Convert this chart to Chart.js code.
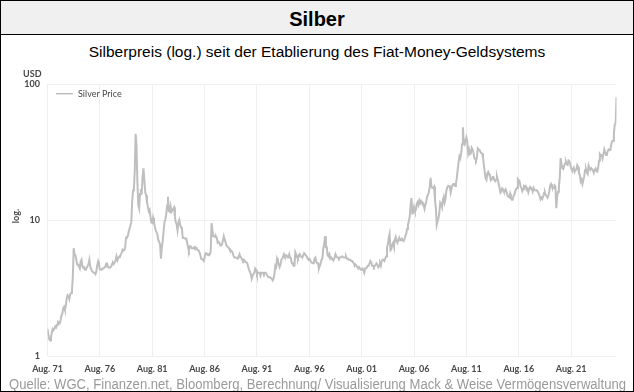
<!DOCTYPE html>
<html>
<head>
<meta charset="utf-8">
<script src="https://cdn.jsdelivr.net/npm/chart.js@4.4.1/dist/chart.umd.min.js"></script>
<style>
  html, body { margin: 0; padding: 0; background: #fff; }
  #frame { position: relative; width: 634px; height: 392px; box-sizing: border-box; border: 1px solid #000; overflow: hidden; }
  #head { position: absolute; left: 0; top: 0; width: 632px; height: 33px; background: #f0f0f0; border-bottom: 1px solid #000;
          font: bold 20px "Liberation Sans", Arial, sans-serif; color: #000; text-align: center; line-height: 36px; }
  #sub { position: absolute; left: 0; top: 42px; width: 632px; text-align: center; font: 15.5px "Liberation Sans", Arial, sans-serif; color: #000; line-height: 18px; }
  #src { position: absolute; left: 8px; top: 374px; font: 15.5px "Liberation Sans Narrow", "Arial Narrow", "Liberation Sans", sans-serif; color: #9a9a9a; line-height: 18px; white-space: nowrap; transform-origin: 0 0; }
  canvas { position: absolute; left: 0; top: 60px; }
</style>
</head>
<body>
<div id="frame">
  <div id="head">Silber</div>
  <div id="sub">Silberpreis (log.) seit der Etablierung des Fiat-Money-Geldsystems</div>
  <canvas id="c" width="632" height="320"></canvas>
  <span id="src">Quelle: WGC, Finanzen.net, Bloomberg, Berechnung/ Visualisierung Mack &amp; Weise Vermögensverwaltung</span>
</div>
<script>
// ---- data (monthly silver price, USD/oz, from Aug. 1971) ----
const seriesName = 'Silver Price';
const tickLabels = ['Aug. 71','Aug. 76','Aug. 81','Aug. 86','Aug. 91','Aug. 96','Aug. 01','Aug. 06','Aug. 11','Aug. 16','Aug. 21'];
const tickEveryMonths = 60;
const yTicks = [1, 10, 100];

const price1970s = [
  1.58, 1.42, 1.33, 1.30, 1.38,
  1.50, 1.58, 1.55, 1.60, 1.65, 1.62, 1.70, 1.78, 1.76, 1.74, 1.84, 1.98,
  2.05, 2.25, 2.30, 2.18, 2.35, 2.65, 2.80, 2.75, 2.62, 2.85, 2.90, 3.00,
  3.80, 6.20, 5.60, 5.50, 5.10, 4.70, 4.70, 4.55, 4.40, 4.95, 5.10, 4.55,
  4.45, 4.50, 4.30, 4.35, 4.45, 4.60, 4.75, 5.10, 4.55, 4.35, 4.20, 4.15,
  4.10, 4.10, 4.00, 4.20, 4.65, 4.95, 4.70, 4.35, 4.30, 4.30, 4.40, 4.40,
  4.45, 4.55, 4.75, 4.80, 4.60, 4.45, 4.45, 4.50, 4.55, 4.75, 4.85, 4.75,
  4.90, 5.05, 5.40, 5.05, 5.25, 5.35, 5.45, 5.55, 5.75, 6.05, 5.95, 6.00,
  6.25, 7.40, 7.50, 7.60, 8.20, 8.60, 9.10, 9.60, 13.5, 16.5, 17.0, 23.0
];
const price1980s = [
  43.0, 35.0, 19.0, 13.0, 12.2, 15.5, 16.3, 16.0, 21.0, 24.0, 19.5, 16.0,
  15.2, 13.5, 12.5, 11.6, 11.9, 10.6, 9.6, 9.5, 10.4, 9.7, 8.9, 8.4,
  8.1, 7.8, 7.1, 6.9, 6.6, 5.2, 6.2, 7.0, 8.2, 9.6, 10.1, 10.9,
  12.8, 14.8, 11.6, 11.5, 12.6, 11.5, 11.8, 12.1, 12.4, 10.6, 9.6, 9.3,
  8.4, 9.6, 10.0, 9.2, 8.9, 8.6, 7.4, 7.4, 7.3, 7.3, 7.3, 6.8,
  6.3, 6.0, 6.4, 6.4, 6.2, 6.2, 6.2, 6.3, 6.2, 6.3, 6.2, 6.0,
  6.0, 5.8, 5.6, 5.2, 5.2, 5.1, 5.0, 5.3, 5.7, 5.7, 5.6, 5.5,
  5.6, 5.6, 5.9, 9.5, 8.4, 7.6, 7.6, 7.5, 7.6, 7.4, 6.8, 6.9,
  6.8, 6.5, 6.5, 6.6, 6.6, 7.6, 7.2, 6.9, 6.5, 6.4, 6.3, 6.2,
  6.0, 6.0, 5.9, 5.8, 5.5, 5.3, 5.3, 5.3, 5.3, 5.2, 5.4, 5.6
];
const price1990s = [
  5.3, 5.3, 5.1, 5.0, 5.1, 5.0, 4.9, 4.9, 4.8, 4.5, 4.3, 4.3,
  4.0, 3.7, 3.9, 4.0, 4.1, 4.4, 4.3, 4.0, 4.1, 4.1, 4.1, 3.9,
  4.1, 4.1, 4.1, 4.0, 4.1, 4.1, 4.0, 3.9, 3.8, 3.8, 3.8, 3.8,
  3.7, 3.6, 3.7, 4.0, 4.6, 4.5, 5.2, 5.0, 4.7, 4.5, 4.7, 5.1,
  5.2, 5.4, 5.6, 5.4, 5.5, 5.5, 5.3, 5.3, 5.6, 5.3, 5.2, 4.8,
  4.8, 4.6, 4.6, 5.8, 5.6, 5.3, 5.2, 5.5, 5.6, 5.4, 5.4, 5.3,
  5.5, 5.7, 5.6, 5.5, 5.4, 5.2, 5.1, 5.2, 5.1, 4.9, 4.9, 4.8,
  4.8, 5.2, 5.3, 4.9, 4.8, 4.8, 4.4, 4.6, 4.8, 5.1, 5.2, 6.2,
  6.6, 7.6, 6.3, 6.3, 5.5, 5.4, 5.6, 5.2, 5.3, 5.2, 5.1, 5.1,
  5.3, 5.6, 5.4, 5.3, 5.3, 5.2, 5.3, 5.3, 5.4, 5.4, 5.3, 5.3
];
const price2000s = [
  5.3, 5.4, 5.2, 5.2, 5.1, 5.1, 5.1, 5.0, 5.0, 4.9, 4.8, 4.6,
  4.7, 4.6, 4.5, 4.4, 4.5, 4.5, 4.3, 4.3, 4.4, 4.3, 4.1, 4.4,
  4.4, 4.4, 4.6, 4.6, 4.8, 5.0, 4.9, 4.6, 4.6, 4.5, 4.6, 4.7,
  4.8, 4.7, 4.5, 4.6, 4.8, 4.6, 5.0, 5.1, 5.1, 5.0, 5.2, 5.4,
  6.3, 6.6, 7.4, 7.9, 6.0, 6.1, 6.6, 6.8, 6.4, 7.2, 7.5, 7.0,
  6.8, 7.1, 7.4, 7.1, 7.2, 7.3, 7.1, 7.0, 7.2, 7.6, 7.9, 8.6,
  9.2, 9.8, 10.5, 12.7, 14.5, 11.2, 11.3, 12.4, 11.7, 11.8, 13.0, 13.5,
  12.9, 13.9, 13.3, 13.8, 13.4, 13.4, 13.0, 12.1, 12.9, 13.7, 14.8, 14.8,
  16.0, 17.6, 20.4, 17.5, 17.2, 17.2, 17.6, 14.0, 12.3, 9.2, 9.8, 10.3,
  11.3, 13.4, 13.1, 12.5, 14.0, 14.8, 13.4, 14.2, 16.4, 17.3, 17.8, 17.7
];
const price2010s = [
  17.7, 15.9, 17.1, 18.0, 18.4, 18.4, 17.8, 18.4, 20.4, 23.4, 26.5, 29.4,
  28.4, 30.8, 36.0, 48.0, 37.0, 36.0, 38.5, 40.5, 37.8, 30.9, 32.9, 30.5,
  30.8, 34.0, 33.0, 31.5, 28.8, 28.0, 27.4, 28.6, 33.6, 33.0, 32.7, 31.8,
  31.0, 30.9, 28.8, 25.3, 22.6, 20.2, 19.7, 22.0, 22.6, 21.8, 20.8, 19.6,
  19.8, 20.7, 20.7, 19.7, 19.3, 19.8, 20.9, 19.7, 18.4, 17.2, 15.9, 16.2,
  17.1, 16.8, 16.2, 16.3, 16.8, 16.1, 15.1, 14.9, 14.7, 15.6, 14.5, 14.1,
  14.1, 15.0, 15.4, 16.3, 16.9, 17.2, 20.0, 19.6, 19.3, 17.7, 17.3, 16.3,
  16.9, 17.8, 17.6, 17.8, 16.7, 17.0, 16.0, 16.9, 17.5, 17.1, 17.0, 16.2,
  17.2, 16.6, 16.5, 16.6, 16.5, 16.5, 15.6, 14.9, 14.2, 14.6, 14.3, 14.9,
  15.8, 15.9, 15.2, 15.0, 14.6, 15.2, 16.2, 17.9, 18.4, 17.6, 17.1, 17.1
];
const price2020s = [
  18.0, 17.6, 12.2, 14.9, 16.1, 17.7, 20.5, 28.5, 25.7, 24.1, 23.7, 25.0,
  26.0, 26.9, 25.7, 25.4, 27.4, 27.0, 25.7, 24.0, 23.3, 23.5, 24.2, 22.6,
  23.3, 23.5, 25.3, 24.5, 21.9, 21.5, 19.2, 19.8, 18.4, 19.6, 21.0, 23.3,
  23.7, 22.4, 21.8, 25.2, 24.1, 23.4, 24.0, 23.6, 23.2, 22.2, 23.4, 23.9,
  22.9, 22.7, 24.2, 27.4, 30.5, 29.8, 29.9, 28.3, 30.5, 33.0, 31.4, 30.0,
  30.5, 32.2, 33.0, 32.6, 32.7, 36.0, 37.9, 38.2, 43.0, 50.5, 51.0, 80.0
];
const silverPrice = [].concat(price1970s, price1980s, price1990s, price2000s, price2010s, price2020s);

// fit footer to reference width
(function () {
  const el = document.getElementById('src');
  const w = el.getBoundingClientRect().width;
  if (w > 0) el.style.transform = 'scaleX(' + (617 / w) + ')';
})();

// ---- chart ----
const SMALL_FONT = 'Lato, "Open Sans", sans-serif';
const TEXT_COL = '#474747';
const LINE_COL = '#bfbfbf';

const points = silverPrice.map((v, i) => ({ x: i, y: v }));
const tickPositions = tickLabels.map((_, i) => i * tickEveryMonths);

const extraText = {
  id: 'extraText',
  afterDraw(chart) {
    const ctx = chart.ctx;
    const ca = chart.chartArea;
    ctx.save();
    ctx.fillStyle = TEXT_COL;
    ctx.font = 'bold 9px ' + SMALL_FONT;
    ctx.textAlign = 'right';
    ctx.textBaseline = 'middle';
    ctx.fillText('USD', 40.5, 13);
    ctx.save();
    ctx.translate(15, 155);
    ctx.rotate(-Math.PI / 2);
    ctx.textAlign = 'center';
    ctx.fillText('log.', 0, 0);
    ctx.restore();
    ctx.strokeStyle = LINE_COL;
    ctx.lineWidth = 1.5;
    ctx.beginPath();
    ctx.moveTo(ca.left + 8.5, ca.top + 9.7);
    ctx.lineTo(ca.left + 25.5, ca.top + 9.7);
    ctx.stroke();
    ctx.font = '9px ' + SMALL_FONT;
    ctx.textAlign = 'left';
    ctx.fillText(seriesName, ca.left + 30.5, ca.top + 9.7);
    ctx.restore();
  }
};

new Chart(document.getElementById('c'), {
  type: 'line',
  data: {
    datasets: [{
      label: seriesName,
      data: points,
      borderColor: LINE_COL,
      borderWidth: 2,
      pointRadius: 0,
      tension: 0,
      fill: false
    }]
  },
  options: {
    responsive: false,
    animation: false,
    events: [],
    layout: { padding: { top: 23, right: 16.5, left: 0, bottom: 0 } },
    plugins: { legend: { display: false }, tooltip: { enabled: false } },
    scales: {
      x: {
        type: 'linear',
        min: 0,
        max: silverPrice.length - 1,
        afterBuildTicks(s) { s.ticks = tickPositions.map(v => ({ value: v })); },
        afterFit(s) { s.height = 25; },
        border: { display: false },
        grid: { color: '#efefef', drawTicks: false, lineWidth: 1 },
        ticks: {
          padding: 8,
          maxRotation: 0,
          autoSkip: false,
          color: TEXT_COL,
          font: { family: SMALL_FONT, size: 9, weight: 'bold' },
          callback(v) { const k = tickPositions.indexOf(v); return k >= 0 ? tickLabels[k] : ''; }
        }
      },
      y: {
        type: 'logarithmic',
        min: 1,
        max: 100,
        afterBuildTicks(s) { s.ticks = yTicks.map(v => ({ value: v })); },
        afterFit(s) { s.width = 46.5; },
        border: { display: false },
        grid: { color: '#efefef', drawTicks: false, lineWidth: 1 },
        ticks: {
          padding: 7.5,
          color: TEXT_COL,
          font: { family: SMALL_FONT, size: 9, weight: 'bold' },
          callback(v) { return yTicks.includes(v) ? String(v) : ''; }
        }
      }
    }
  },
  plugins: [extraText]
});
</script>
</body>
</html>
